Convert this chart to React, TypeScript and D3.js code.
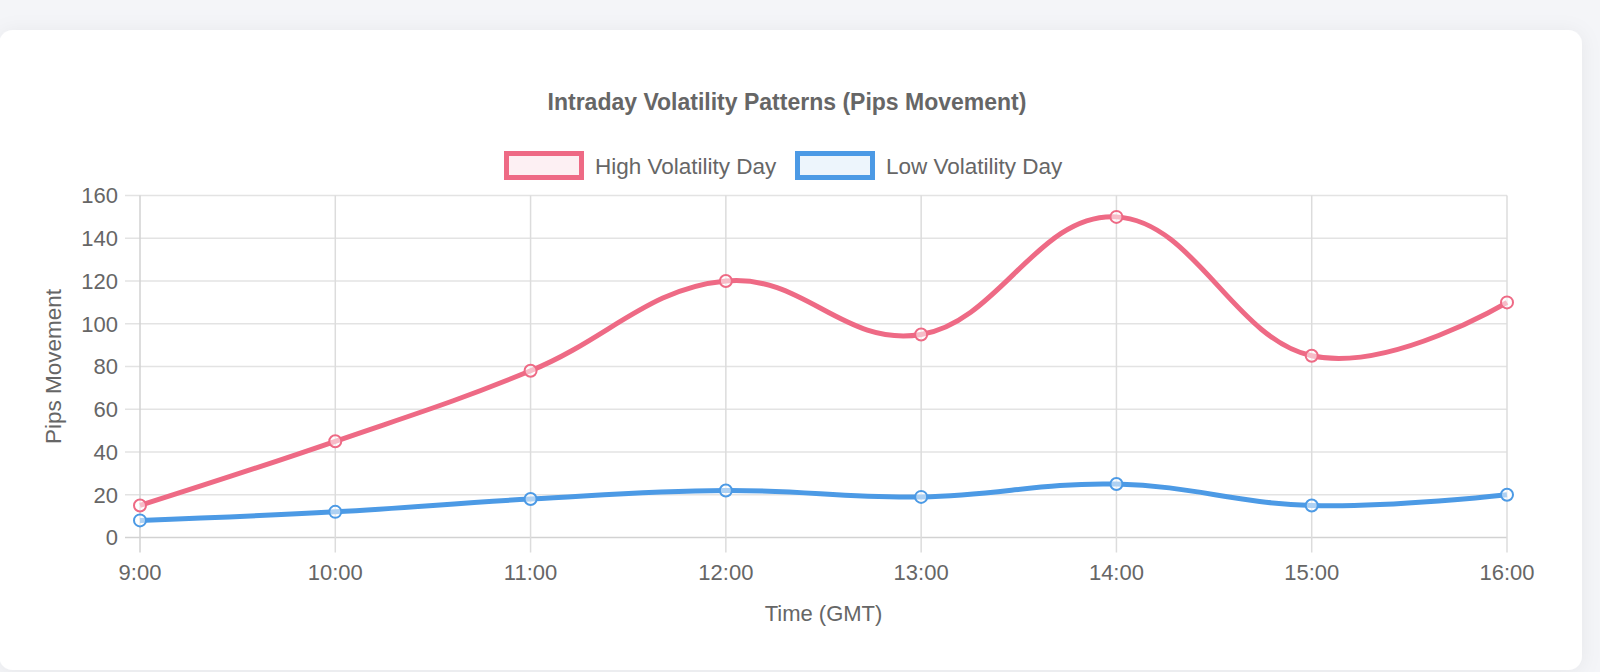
import React, { useEffect, useRef } from "react";
import * as d3 from "d3";

const hours = ["9:00", "10:00", "11:00", "12:00", "13:00", "14:00", "15:00", "16:00"];
const highVolatility = [15, 45, 78, 120, 95, 150, 85, 110];
const lowVolatility = [8, 12, 18, 22, 19, 25, 15, 20];
const yTicks = [0, 20, 40, 60, 80, 100, 120, 140, 160];

const seriesNames = ["High Volatility Day", "Low Volatility Day"];
const seriesColors = ["#ee6a85", "#4c9ae5"];
const seriesFills = ["rgba(238,106,133,0.1)", "rgba(76,154,229,0.1)"];

const W = 1600;
const H = 672;
const FONT = "Helvetica, Arial, 'Liberation Sans', sans-serif";

export default function App() {
  const ref = useRef<SVGSVGElement>(null);

  useEffect(() => {
    if (!ref.current) return;
    const svg = d3.select(ref.current);
    svg.selectAll("*").remove();

    const margin = { top: 195.5, right: 93, bottom: 134.5, left: 140 };
    const plotRight = W - margin.right;
    const plotBottom = H - margin.bottom;

    // Card with soft shadow
    const defs = svg.append("defs");
    const shadow = defs
      .append("filter")
      .attr("id", "cardShadow")
      .attr("x", "-5%")
      .attr("y", "-10%")
      .attr("width", "110%")
      .attr("height", "120%");
    shadow
      .append("feDropShadow")
      .attr("dx", 0)
      .attr("dy", 2)
      .attr("stdDeviation", 10)
      .attr("flood-color", "#000")
      .attr("flood-opacity", 0.06);

    svg
      .append("rect")
      .attr("x", -1)
      .attr("y", 30)
      .attr("width", 1583)
      .attr("height", 640)
      .attr("rx", 14)
      .attr("fill", "#ffffff")
      .attr("filter", "url(#cardShadow)");

    const x = d3.scalePoint().domain(hours).range([margin.left, plotRight]);
    const y = d3.scaleLinear().domain([0, 160]).range([plotBottom, margin.top]);

    // Grid lines
    const grid = svg.append("g");
    grid
      .selectAll(".hgrid")
      .data(yTicks)
      .enter()
      .append("line")
      .attr("x1", margin.left - 15)
      .attr("x2", plotRight)
      .attr("y1", (d) => y(d))
      .attr("y2", (d) => y(d))
      .attr("stroke", (d) => (d === 0 ? "#d2d2d2" : "#e3e3e3"))
      .attr("stroke-width", 1.5);
    grid
      .selectAll(".vgrid")
      .data(hours)
      .enter()
      .append("line")
      .attr("x1", (d) => x(d) || 0)
      .attr("x2", (d) => x(d) || 0)
      .attr("y1", margin.top)
      .attr("y2", plotBottom + 15)
      .attr("stroke", (d, i) => (i === 0 ? "#d2d2d2" : "#dcdcdc"))
      .attr("stroke-width", 1.5);

    // Tick labels
    svg
      .append("g")
      .selectAll("text")
      .data(yTicks)
      .enter()
      .append("text")
      .attr("x", margin.left - 22)
      .attr("y", (d) => y(d))
      .attr("dy", "0.36em")
      .attr("text-anchor", "end")
      .attr("fill", "#666")
      .attr("font-size", 22)
      .attr("font-family", FONT)
      .text((d) => d);

    svg
      .append("g")
      .selectAll("text")
      .data(hours)
      .enter()
      .append("text")
      .attr("x", (d) => x(d) || 0)
      .attr("y", 572)
      .attr("dy", "0.36em")
      .attr("text-anchor", "middle")
      .attr("fill", "#666")
      .attr("font-size", 22)
      .attr("font-family", FONT)
      .text((d) => d);

    // Axis titles
    svg
      .append("text")
      .attr("x", (margin.left + plotRight) / 2)
      .attr("y", 613)
      .attr("dy", "0.36em")
      .attr("text-anchor", "middle")
      .attr("fill", "#666")
      .attr("font-size", 22)
      .attr("font-family", FONT)
      .text("Time (GMT)");

    svg
      .append("text")
      .attr("transform", `translate(53,${(margin.top + plotBottom) / 2}) rotate(-90)`)
      .attr("dy", "0.36em")
      .attr("text-anchor", "middle")
      .attr("fill", "#666")
      .attr("font-size", 22.5)
      .attr("font-family", FONT)
      .text("Pips Movement");

    // Title
    svg
      .append("text")
      .attr("x", 787)
      .attr("y", 102)
      .attr("dy", "0.36em")
      .attr("text-anchor", "middle")
      .attr("fill", "#666")
      .attr("font-size", 23)
      .attr("font-weight", "bold")
      .attr("font-family", FONT)
      .text("Intraday Volatility Patterns (Pips Movement)");

    // Legend
    const legendX = [504, 795];
    seriesNames.forEach((name, i) => {
      const g = svg.append("g").attr("transform", `translate(${legendX[i]},151)`);
      g.append("rect")
        .attr("x", 2.5)
        .attr("y", 2.5)
        .attr("width", 75)
        .attr("height", 24)
        .attr("fill", seriesFills[i])
        .attr("stroke", seriesColors[i])
        .attr("stroke-width", 5);
      g.append("text")
        .attr("x", 91)
        .attr("y", 14.5)
        .attr("dy", "0.36em")
        .attr("fill", "#666")
        .attr("font-size", 22.5)
        .attr("font-family", FONT)
        .text(name);
    });

    // Lines and points
    const allSeries = [highVolatility, lowVolatility];
    const line = d3
      .line<number>()
      .x((d, i) => x(hours[i]) || 0)
      .y((d) => y(d))
      .curve(d3.curveCardinal.tension(-0.2));

    allSeries.forEach((values, si) => {
      svg
        .append("path")
        .datum(values)
        .attr("fill", "none")
        .attr("stroke", seriesColors[si])
        .attr("stroke-width", 5)
        .attr("stroke-linejoin", "round")
        .attr("d", line);
    });

    allSeries.forEach((values, si) => {
      svg
        .append("g")
        .selectAll("circle")
        .data(values)
        .enter()
        .append("circle")
        .attr("cx", (d, i) => x(hours[i]) || 0)
        .attr("cy", (d) => y(d))
        .attr("r", 6)
        .attr("fill", "rgba(255,255,255,0.55)")
        .attr("stroke", seriesColors[si])
        .attr("stroke-width", 2);
    });
  }, []);

  return (
    <div
      style={{
        position: "fixed",
        left: 0,
        top: 0,
        width: W,
        height: H,
        background: "#f4f5f8",
      }}
    >
      <svg ref={ref} width={W} height={H} style={{ display: "block" }} />
    </div>
  );
}
